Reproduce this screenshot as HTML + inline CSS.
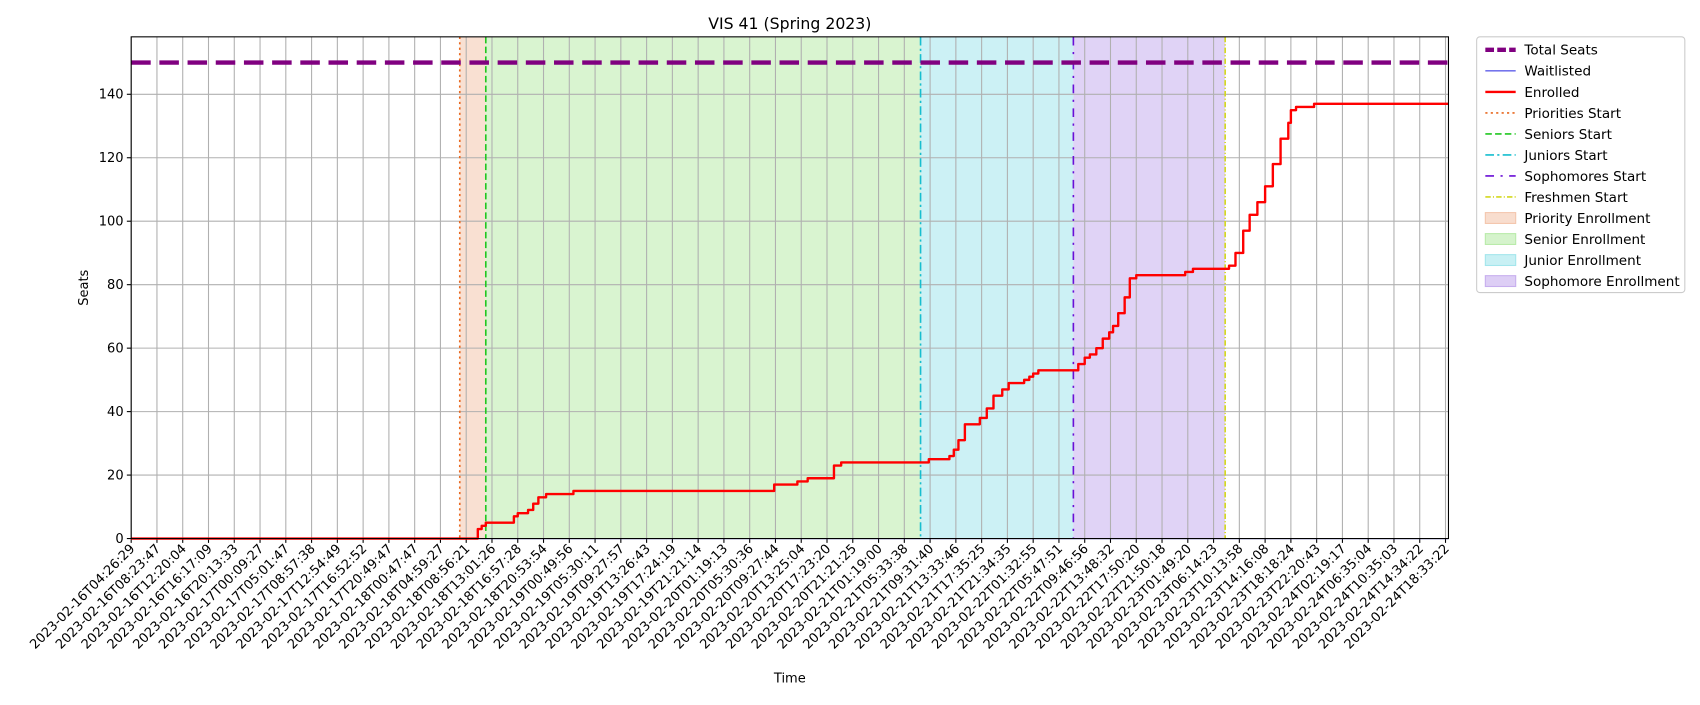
<!DOCTYPE html>
<html><head><meta charset="utf-8"><style>
body{margin:0;background:#fff;font-family:"Liberation Sans","DejaVu Sans",sans-serif;overflow:hidden}
svg text{font-family:"DejaVu Sans","Liberation Sans",sans-serif}
</style></head><body>
<svg id="c" width="1700" height="700" viewBox="0 0 1568 646" preserveAspectRatio="none" xmlns="http://www.w3.org/2000/svg"></svg>
<script>
const tickLabels=["2023-02-16T04:26:29","2023-02-16T08:23:47","2023-02-16T12:20:04","2023-02-16T16:17:09","2023-02-16T20:13:33","2023-02-17T00:09:27","2023-02-17T05:01:47","2023-02-17T08:57:38","2023-02-17T12:54:49","2023-02-17T16:52:52","2023-02-17T20:49:47","2023-02-18T00:47:47","2023-02-18T04:59:27","2023-02-18T08:56:21","2023-02-18T13:01:26","2023-02-18T16:57:28","2023-02-18T20:53:54","2023-02-19T00:49:56","2023-02-19T05:30:11","2023-02-19T09:27:57","2023-02-19T13:26:43","2023-02-19T17:24:19","2023-02-19T21:21:14","2023-02-20T01:19:13","2023-02-20T05:30:36","2023-02-20T09:27:44","2023-02-20T13:25:04","2023-02-20T17:23:20","2023-02-20T21:21:25","2023-02-21T01:19:00","2023-02-21T05:33:38","2023-02-21T09:31:40","2023-02-21T13:33:46","2023-02-21T17:35:25","2023-02-21T21:34:35","2023-02-22T01:32:55","2023-02-22T05:47:51","2023-02-22T09:46:56","2023-02-22T13:48:32","2023-02-22T17:50:20","2023-02-22T21:50:18","2023-02-23T01:49:20","2023-02-23T06:14:23","2023-02-23T10:13:58","2023-02-23T14:16:08","2023-02-23T18:18:24","2023-02-23T22:20:43","2023-02-24T02:19:17","2023-02-24T06:35:04","2023-02-24T10:35:03","2023-02-24T14:34:22","2023-02-24T18:33:22"];
const yTicks=[0,20,40,60,80,100,120,140];
const totalSeats=150;
const enrolledX=[0,13.25,13.45,13.6,13.76,14.77,14.85,15.0,15.4,15.6,15.8,16.1,16.7,17.16,24.82,24.95,25.85,26.25,27.1,27.27,27.55,30.7,30.95,31.6,31.75,31.92,32.1,32.35,32.5,32.93,33.2,33.46,33.8,34.05,34.35,34.65,34.85,35.0,35.2,35.5,36.56,36.75,37.0,37.2,37.45,37.7,37.95,38.1,38.3,38.55,38.75,39.0,39.2,40.9,41.05,41.2,41.4,42.45,42.6,42.85,43.15,43.4,43.7,44.0,44.3,44.6,44.9,45.0,45.2,45.5,45.9,51.1];
const enrolledY=[0,0,3,4,5,5,7,8,9,11,13,14,14,15,15,17,18,19,19,23,24,24,25,25,26,28,31,36,36,38,41,45,47,49,49,50,51,52,53,53,53,55,57,58,60,63,65,67,71,76,82,83,83,84,84,85,85,85,86,90,97,102,106,111,118,126,131,135,136,136,137,137];
const waitX=[0,51.1], waitY=[0,0];
const eventNames=["Priorities Start","Seniors Start","Juniors Start","Sophomores Start","Freshmen Start"];
const eventX=[12.75,13.76,30.63,36.56,42.45];
const spanNames=["Priority Enrollment","Senior Enrollment","Junior Enrollment","Sophomore Enrollment"];
const spanStart=[12.75,13.76,30.63,36.56];
const spanEnd=[13.76,30.63,36.56,42.45];

const NS="http://www.w3.org/2000/svg",svg=document.getElementById('c');
const L=121,R=1336,T=34,B=497,step=23.77,yMax=158.1;
const X=i=>L+i*step, Y=v=>B-v*(B-T)/yMax;
function el(t,a,p){const e=document.createElementNS(NS,t);for(const k in a)e.setAttribute(k,a[k]);(p||svg).appendChild(e);return e;}
// step-post path
function stepPts(xs,ys){const p=[];xs.forEach((x,i)=>{if(i>0)p.push(X(x)+','+Y(ys[i-1]));p.push(X(x)+','+Y(ys[i]));});return p.join(' ');}
const spanCol=["#f4c6ad","#b9ebaa","#a3e6ec","#c7aeee"];
const evCol=["#e8681f","#21c721","#17becf","#6a0fd6","#d4d81e"];
const evDash=["2,3","6,3","8,3,2,3","8,6,2,6","5,2,1,2"];
spanStart.forEach((s,i)=>{const r=el('rect',{x:X(s),y:T,width:X(spanEnd[i])-X(s),height:B-T,fill:spanCol[i],'fill-opacity':0.55});

});
tickLabels.forEach((t,i)=>{const g=el('line',{x1:X(i),x2:X(i),y1:T,y2:B,stroke:'#b0b0b0','stroke-width':1});

el('line',{x1:X(i),x2:X(i),y1:B,y2:B+4,stroke:'#000'});
const tx=el('text',{x:X(i)+4,y:B+10,'font-size':12,'text-anchor':'end',transform:`rotate(-45 ${X(i)+4} ${B+10})`});tx.textContent=t;
});
yTicks.forEach(v=>{const g=el('line',{x1:L,x2:R,y1:Y(v),y2:Y(v),stroke:'#b0b0b0'});

el('line',{x1:L-4,x2:L,y1:Y(v),y2:Y(v),stroke:'#000'});
const tx=el('text',{x:L-7,y:Y(v)+4,'font-size':12,'text-anchor':'end'});tx.textContent=v;
});
eventX.forEach((x,i)=>{const l=el('line',{x1:X(x),x2:X(x),y1:T,y2:B,stroke:evCol[i],'stroke-width':1.5,'stroke-dasharray':evDash[i]});
});
const ts=el('line',{x1:L,x2:R,y1:Y(totalSeats),y2:Y(totalSeats),stroke:'#800080','stroke-width':4,'stroke-dasharray':'18,8'});

const wl=el('polyline',{points:waitX.map((x,i)=>X(x)+','+Y(waitY[i])).join(' '),fill:'none',stroke:'#2020e0','stroke-width':1});

const en=el('polyline',{points:stepPts(enrolledX,enrolledY),fill:'none',stroke:'#ff0000','stroke-width':2.2,'stroke-linejoin':'round'});

const fr=el('rect',{x:L,y:T,width:R-L,height:B-T,fill:'none',stroke:'#000','stroke-width':1});

const ti=el('text',{x:(L+R)/2,y:27,'font-size':14.5,'text-anchor':'middle'});ti.textContent='VIS 41 (Spring 2023)';

const xt=el('text',{x:(L+R)/2,y:630,'font-size':12,'text-anchor':'middle'});xt.textContent='Time';

const yt=el('text',{x:81,y:(T+B)/2,'font-size':12,'text-anchor':'middle',transform:`rotate(-90 81 ${(T+B)/2})`});yt.textContent='Seats';

const lg=el('g',{});
el('rect',{x:1362,y:34,width:192,height:236,rx:3,fill:'#fff',stroke:'#ccc'},lg);
const entries=[["Total Seats",'line','#800080',4,'8,3'],["Waitlisted",'line','#2020e0',1,''],["Enrolled",'line','#ff0000',2.2,'']];
eventNames.forEach((n,i)=>entries.push([n,'line',evCol[i],1.5,evDash[i]]));
spanNames.forEach((n,i)=>entries.push([n,'rect',spanCol[i]]));
entries.forEach((e,i)=>{const y=46+i*19.4;const g=el('g',{},lg);

if(e[1]=='line')el('line',{x1:1370,x2:1398,y1:y,y2:y,stroke:e[2],'stroke-width':e[3],'stroke-dasharray':e[4]},g);
else el('rect',{x:1370,y:y-5,width:28,height:10,fill:e[2],'fill-opacity':0.6,stroke:e[2]},g);
const t=el('text',{x:1406,y:y+4.5,'font-size':12.5},g);t.textContent=e[0];});
</script>
</body></html>
